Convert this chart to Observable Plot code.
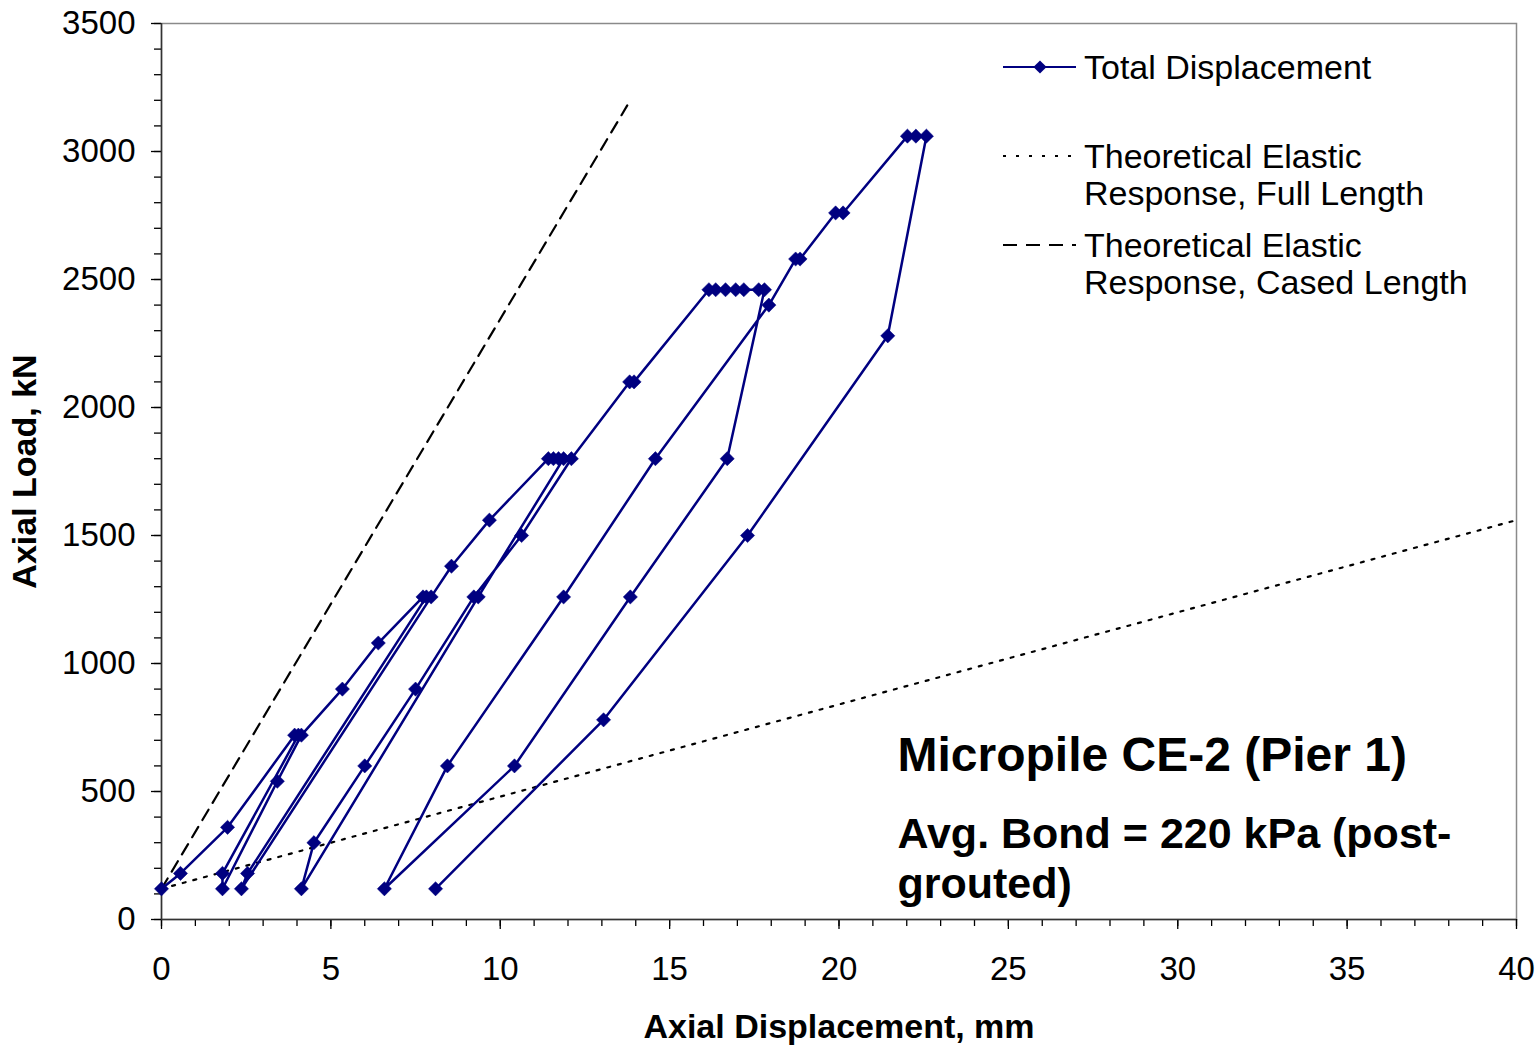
<!DOCTYPE html>
<html><head><meta charset="utf-8">
<script src="https://cdn.jsdelivr.net/npm/d3@7"></script>
<script src="https://cdn.jsdelivr.net/npm/@observablehq/plot@0.6"></script>
<style>
html,body{margin:0;padding:0;background:#fff;}
#wrap{position:relative;width:1538px;height:1045px;font-family:"Liberation Sans",Arial,sans-serif;}
#legend{position:absolute;left:0;top:0;pointer-events:none;}
</style></head><body><div id="wrap"></div>
<script>
// Total displacement record (mm) and axial load (kN), in test order
const displacement = [0, 0.56, 1.95, 3.93, 4.04, 1.80, 1.80, 3.42, 4.13, 5.34,
  6.40, 7.72, 7.82, 2.54, 2.36, 7.96, 8.56, 9.68, 11.42, 11.57,
  11.72, 11.87, 9.35, 4.13, 4.50, 6.00, 7.50, 9.22, 10.63, 12.10,
  13.82, 13.95, 16.16, 16.36, 16.65, 16.95, 17.19, 17.63, 17.80, 16.70,
  13.84, 10.42, 6.58, 8.44, 11.87, 14.58, 17.93, 18.72, 18.85, 19.90,
  20.12, 22.02, 22.27, 22.58, 21.44, 17.30, 13.05, 8.09];
const load = [120, 180, 360, 720, 720, 180, 120, 540, 720, 900,
  1080, 1260, 1260, 180, 120, 1260, 1380, 1560, 1800, 1800,
  1800, 1800, 1260, 120, 300, 600, 900, 1260, 1500, 1800,
  2100, 2100, 2460, 2460, 2460, 2460, 2460, 2460, 2460, 1800,
  1260, 600, 120, 600, 1260, 1800, 2400, 2580, 2580, 2760,
  2760, 3060, 3060, 3060, 2280, 1500, 780, 120];
// Theoretical elastic responses
const fullLengthDisp = [0, 40];
const fullLengthLoad = [120, 1560];
const casedLengthDisp = [0, 13.75];
const casedLengthLoad = [120, 3180];
// Ticks
const xMajor = [0, 5, 10, 15, 20, 25, 30, 35, 40];
const xMinor = d3.range(0, 41, 1);
const yMajor = [0, 500, 1000, 1500, 2000, 2500, 3000, 3500];
const yMinor = d3.range(0, 3501, 100);
// Texts
const xTitle = "Axial Displacement, mm";
const yTitle = "Axial Load, kN";
const noteTitle = "Micropile CE-2 (Pier 1)";
const noteLine1 = "Avg. Bond = 220 kPa (post-";
const noteLine2 = "grouted)";
const legendLabels = ["Total Displacement", "Theoretical Elastic", "Response, Full Length", "Theoretical Elastic", "Response, Cased Length"];

const NAVY = "#000080";
const FONT = "'Liberation Sans', Arial, sans-serif";

const total = displacement.map((x, i) => ({x, y: load[i]}));
const full = fullLengthDisp.map((x, i) => ({x, y: fullLengthLoad[i]}));
const cased = casedLengthDisp.map((x, i) => ({x, y: casedLengthLoad[i]}));

const chart = Plot.plot({
  width: 1538, height: 1045,
  marginLeft: 161, marginRight: 22, marginTop: 23, marginBottom: 126,
  style: {fontFamily: FONT, fontSize: "33px", color: "#000", background: "#fff", overflow: "visible"},
  x: {domain: [0, 40]},
  y: {domain: [0, 3500]},
  marks: [
    Plot.frame({stroke: "#8a8a8a", strokeWidth: 1.5}),
    Plot.axisX({ticks: xMinor, tickSize: 7, tickFormat: () => "", label: null, strokeWidth: 1.3}),
    Plot.axisX({ticks: xMajor, tickSize: 10, tickPadding: 27, tickFormat: d => String(d), label: null, fontSize: 33, strokeWidth: 1.3}),
    Plot.axisY({ticks: yMinor, tickSize: 7, tickFormat: () => "", label: null, strokeWidth: 1.3}),
    Plot.axisY({ticks: yMajor, tickSize: 10, tickPadding: 16, tickFormat: d => String(d), label: null, fontSize: 33, strokeWidth: 1.3}),
    Plot.ruleX([0], {stroke: "#333", strokeWidth: 1.5}),
    Plot.ruleY([0], {stroke: "#333", strokeWidth: 1.5}),
    Plot.line(full, {x: "x", y: "y", stroke: "#000", strokeWidth: 2.2, strokeDasharray: "3,8"}),
    Plot.line(cased, {x: "x", y: "y", stroke: "#000", strokeWidth: 2.2, strokeDasharray: "12,8"}),
    Plot.line(total, {x: "x", y: "y", stroke: NAVY, strokeWidth: 2.5}),
    Plot.dot(total, {x: "x", y: "y", symbol: "diamond2", r: 6.4, fill: NAVY, stroke: NAVY, strokeWidth: 0.5}),
    Plot.text([xTitle], {text: d => d, frameAnchor: "bottom", dy: 118, fontWeight: "bold", fontSize: 34}),
    Plot.text([yTitle], {text: d => d, frameAnchor: "left", textAnchor: "middle", dx: -136, rotate: -90, fontWeight: "bold", fontSize: 34}),
    Plot.text([noteTitle], {text: d => d, frameAnchor: "bottom-left", textAnchor: "start", dx: 736, dy: -149, fontWeight: "bold", fontSize: 48}),
    Plot.text([noteLine1], {text: d => d, frameAnchor: "bottom-left", textAnchor: "start", dx: 736, dy: -72, fontWeight: "bold", fontSize: 43}),
    Plot.text([noteLine2], {text: d => d, frameAnchor: "bottom-left", textAnchor: "start", dx: 736, dy: -22, fontWeight: "bold", fontSize: 43})
  ]
});
const wrap = document.getElementById("wrap");
wrap.appendChild(chart);

// Legend overlay
const leg = d3.select(wrap).append("svg").attr("id", "legend")
  .attr("width", 1538).attr("height", 1045)
  .style("font-family", FONT).style("font-size", "34px");
const rows = [
  {y: 67, dash: null, stroke: NAVY, marker: true, lines: [legendLabels[0]]},
  {y: 156, dash: "3,10", stroke: "#000", marker: false, lines: [legendLabels[1], legendLabels[2]]},
  {y: 245, dash: "14,9", stroke: "#000", marker: false, lines: [legendLabels[3], legendLabels[4]]}
];
rows.forEach(r => {
  leg.append("line").attr("x1", 1003).attr("x2", 1076).attr("y1", r.y).attr("y2", r.y)
    .attr("stroke", r.stroke).attr("stroke-width", 2.2).attr("stroke-dasharray", r.dash);
  if (r.marker) {
    leg.append("path").attr("d", d3.symbol(d3.symbolDiamond2, 110)())
      .attr("transform", `translate(1040,${r.y})`).attr("fill", NAVY);
  }
  r.lines.forEach((t, i) => {
    leg.append("text").attr("x", 1084).attr("y", r.y + i * 37).attr("dy", "0.35em").text(t);
  });
});
</script></body></html>
